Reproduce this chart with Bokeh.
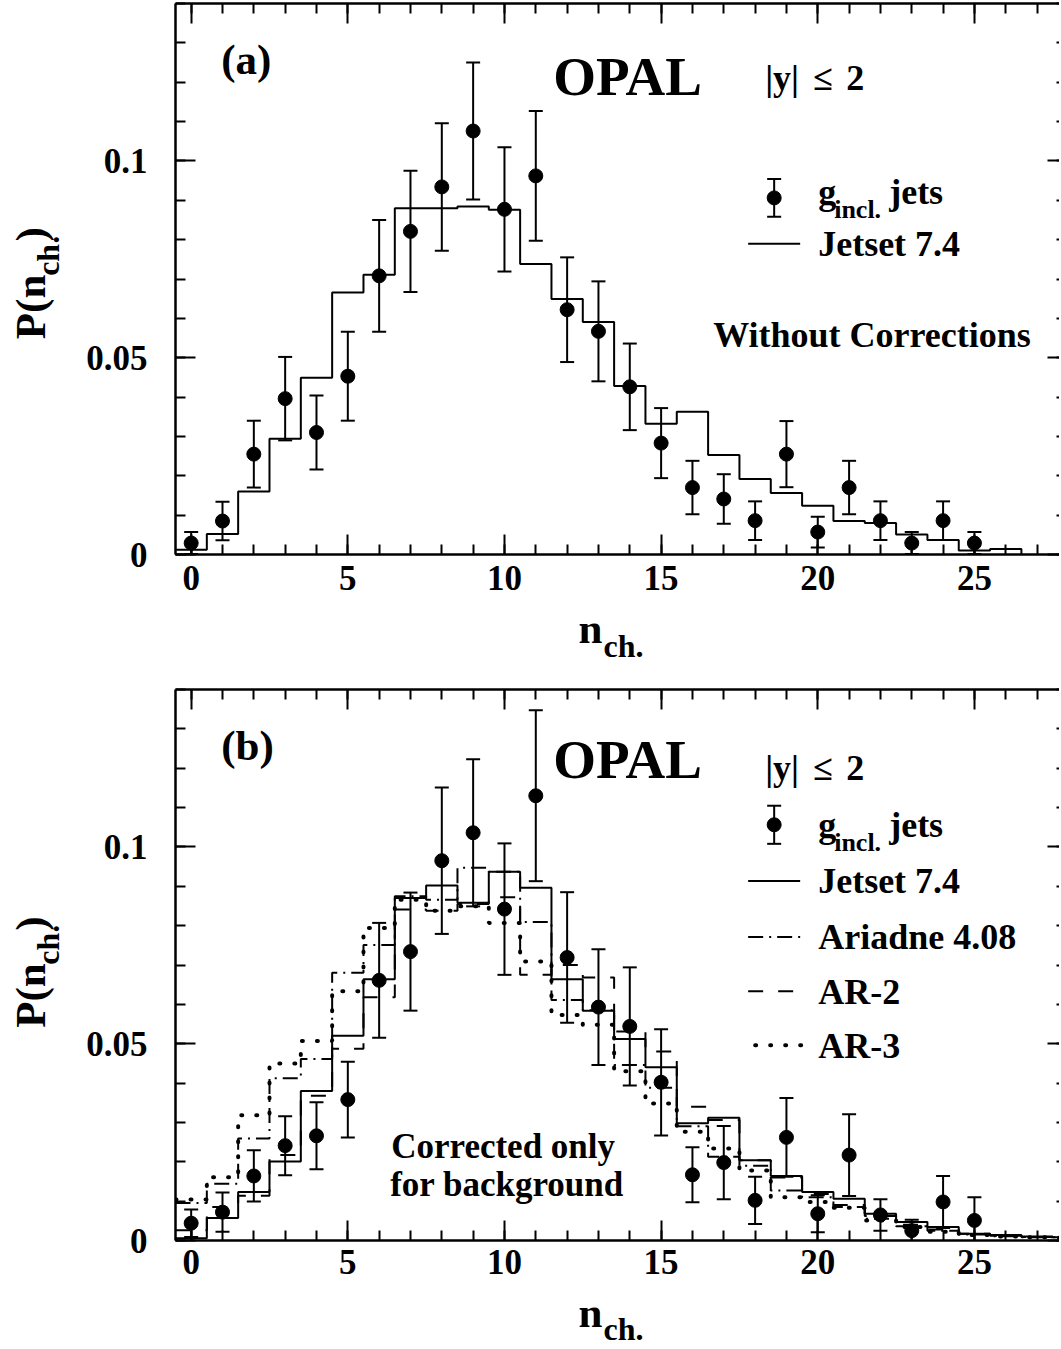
import math
from bokeh.plotting import figure
from bokeh.models import (ColumnDataSource, Whisker, TeeHead, Label, LinearAxis,
                          FixedTicker, Range1d, CustomJSTickFormatter)
from bokeh.layouts import column, row
from bokeh.embed import file_html
from bokeh.resources import INLINE
from bokeh.core.properties import value

# ---------------- data ----------------
# panel (a): without corrections
n_a = list(range(26))
p_a = [0.0029, 0.0085, 0.0255, 0.0396, 0.0310, 0.0453, 0.0708, 0.0821, 0.0934, 0.1076,
       0.0877, 0.0962, 0.0622, 0.0567, 0.0426, 0.0283, 0.0170, 0.0141, 0.0086, 0.0255,
       0.0057, 0.0170, 0.0086, 0.0029, 0.0086, 0.0029]
e_a = [0.0028, 0.0049, 0.0085, 0.0106, 0.0094, 0.0113, 0.0142, 0.0154, 0.0162, 0.0174,
       0.0158, 0.0165, 0.0133, 0.0127, 0.0110, 0.0089, 0.0068, 0.0063, 0.0049, 0.0084,
       0.0039, 0.0068, 0.0049, 0.0028, 0.0049, 0.0028]
bins_a = list(range(27))
jetset_a = [0.0012, 0.0052, 0.0160, 0.0294, 0.0449, 0.0666, 0.0711, 0.0880, 0.0880, 0.0884,
            0.0876, 0.0738, 0.0649, 0.0591, 0.0428, 0.0332, 0.0363, 0.0253, 0.0192, 0.0156,
            0.0124, 0.0085, 0.0080, 0.0051, 0.0037, 0.0010, 0.0014]

# panel (b): corrected only for background
n_b = list(range(26))
p_b = [0.0044, 0.0072, 0.0164, 0.0241, 0.0266, 0.0358, 0.0661, 0.0734, 0.0965, 0.1036,
       0.0842, 0.1130, 0.0719, 0.0593, 0.0544, 0.0402, 0.0167, 0.0198, 0.0102, 0.0262,
       0.0068, 0.0217, 0.0065, 0.0025, 0.0098, 0.0051]
e_b = [0.0035, 0.0050, 0.0065, 0.0075, 0.0085, 0.0096, 0.0146, 0.0150, 0.0186, 0.0187,
       0.0167, 0.0217, 0.0166, 0.0147, 0.0150, 0.0135, 0.0070, 0.0093, 0.0060, 0.0100,
       0.0047, 0.0104, 0.0040, 0.0028, 0.0066, 0.0059]
bins_b = list(range(29))
jetset_b = [0.0006, 0.0057, 0.0123, 0.0201, 0.0380, 0.0520, 0.0664, 0.0870, 0.0902, 0.0858,
            0.0937, 0.0896, 0.0664, 0.0584, 0.0512, 0.0440, 0.0298, 0.0312, 0.0204, 0.0164,
            0.0123, 0.0106, 0.0068, 0.0047, 0.0034, 0.0017, 0.0014, 0.0010, 0.0008]
ariadne_b = [0.0095, 0.0144, 0.0259, 0.0412, 0.0461, 0.0680, 0.0751, 0.0875, 0.0866, 0.0947,
             0.0937, 0.0809, 0.0611, 0.0585, 0.0446, 0.0388, 0.0290, 0.0213, 0.0190, 0.0127,
             0.0110, 0.0085, 0.0055, 0.0036, 0.0025, 0.0015, 0.0011, 0.0008, 0.0007]
ar2_b = [0.0026, 0.0085, 0.0114, 0.0217, 0.0368, 0.0487, 0.0618, 0.0841, 0.0838, 0.0855,
         0.0872, 0.0675, 0.0700, 0.0668, 0.0531, 0.0480, 0.0340, 0.0306, 0.0204, 0.0160,
         0.0118, 0.0090, 0.0062, 0.0040, 0.0028, 0.0017, 0.0012, 0.0009, 0.0008]
ar3_b = [0.0104, 0.0161, 0.0318, 0.0450, 0.0507, 0.0633, 0.0794, 0.0866, 0.0838, 0.0849,
         0.0807, 0.0709, 0.0573, 0.0548, 0.0430, 0.0348, 0.0276, 0.0234, 0.0178, 0.0110,
         0.0098, 0.0083, 0.0051, 0.0034, 0.0022, 0.0014, 0.0010, 0.0008, 0.0007]

x_ticks = [0, 5, 10, 15, 20, 25]
x_minor = list(range(0, 28))
y_ticks = [0, 0.05, 0.1]
y_minor = [i / 100 for i in range(15)]

# ---------------- layout constants ----------------
FONT = "Liberation Serif"
PXU = 31.33                      # pixels per unit of n
FRAME_W = 884
X_END = -0.5 + FRAME_W / PXU
TITLE_W = 70                     # width of the strip holding the y title
PAGE_W = 1061
BASE_SHIFT = 0.35                # empirical baseline correction (em)
ALONG_SHIFT = 0.58               # empirical correction for rotated text (em)


def ax(px):
    return (px - 191.0) / PXU


def ay_a(py):
    return (554.0 - py) / 3940.0


def ay_b(py):
    return (1241.7 - py) / 3926.0


def make_fig(frame_h, top_b, bottom_b, x_standoff):
    p = figure(frame_width=FRAME_W, frame_height=frame_h,
               x_range=Range1d(-0.5, X_END), y_range=Range1d(0, 0.14),
               output_backend="svg", toolbar_location=None,
               min_border_left=175 - TITLE_W, min_border_right=0,
               min_border_top=top_b, min_border_bottom=bottom_b,
               x_axis_location=None, y_axis_location=None)
    p.outline_line_color = None
    p.xgrid.visible = False
    p.ygrid.visible = False
    p.background_fill_color = "white"
    p.border_fill_color = "white"

    def style(a, labels, tin=20, min_in=10, line=True):
        a.axis_line_width = 2.5
        a.axis_line_color = "black" if line else None
        a.major_tick_in = tin
        a.major_tick_out = 0
        a.minor_tick_in = min_in
        a.minor_tick_out = 0
        a.major_tick_line_width = 2
        a.minor_tick_line_width = 2
        a.major_tick_line_color = "black"
        a.minor_tick_line_color = "black"
        if labels:
            a.major_label_text_font = FONT
            a.major_label_text_font_style = "bold"
            a.major_label_text_font_size = "35px"
            a.major_label_text_color = "black"
        else:
            a.major_label_text_font_size = "0px"
            a.major_label_text_color = None
            a.major_label_standoff = 0

    xb = LinearAxis(ticker=FixedTicker(ticks=x_ticks, minor_ticks=x_minor))
    style(xb, True)
    xb.major_label_standoff = x_standoff
    p.add_layout(xb, "below")
    xt = LinearAxis(ticker=FixedTicker(ticks=x_ticks, minor_ticks=x_minor))
    style(xt, False)
    p.add_layout(xt, "above")
    yl = LinearAxis(ticker=FixedTicker(ticks=y_ticks, minor_ticks=y_minor),
                    formatter=CustomJSTickFormatter(code="return tick.toString();"))
    style(yl, True)
    yl.major_label_standoff = 28
    p.add_layout(yl, "left")
    yr = LinearAxis(ticker=FixedTicker(ticks=y_ticks, minor_ticks=y_minor))
    style(yr, False, tin=12, min_in=3, line=False)
    p.add_layout(yr, "right")
    return p


def blank_fig(w, h):
    f = figure(width=w, height=h, x_range=Range1d(0, w), y_range=Range1d(0, h),
               output_backend="svg", toolbar_location=None, min_border=0,
               x_axis_location=None, y_axis_location=None)
    f.outline_line_color = None
    f.xgrid.visible = False
    f.ygrid.visible = False
    return f


def strip_text(f, h, s, lx, ly_top, size, rotated=False):
    # lx, ly_top: wanted pixel position (from the strip's top-left) of the baseline start
    if rotated:
        lx = lx - BASE_SHIFT * size
        ly_top = ly_top + ALONG_SHIFT * size
        angle = math.pi / 2
    else:
        ly_top = ly_top - BASE_SHIFT * size
        angle = 0.0
    f.text(x=[lx], y=[h - ly_top], text=[s], text_font=value(FONT),
           text_font_style=value("bold"), text_font_size=value(f"{size}px"),
           text_color="black", text_align=value("left"),
           text_baseline=value("alphabetic"), angle=angle)


def text(p, s, px, py, size, ayf):
    p.add_layout(Label(x=ax(px), y=ayf(py - BASE_SHIFT * size), x_units="data", y_units="data",
                       text=s, text_font=FONT, text_font_style="bold",
                       text_font_size=f"{size}px", text_color="black",
                       text_align="left", text_baseline="alphabetic"))


def hist(p, bins, vals, dash="solid", width=2.0, cap="butt"):
    edges = [b - 0.5 for b in bins] + [bins[-1] + 0.5]
    ys = list(vals) + [0.0]
    p.step(x=edges, y=ys, mode="after", line_color="black", line_width=width,
           line_dash=dash, line_cap=cap)


def whisk(p, src):
    p.add_layout(Whisker(base="n", upper="hi", lower="lo", source=src, line_width=2,
                         line_color="black",
                         upper_head=TeeHead(size=14, line_width=2, line_color="black"),
                         lower_head=TeeHead(size=14, line_width=2, line_color="black")))
    p.scatter(x="n", y="p", source=src, size=14, color="black")


def points(p, ns, ps, es):
    src = ColumnDataSource(dict(n=ns, p=ps, lo=[a - b for a, b in zip(ps, es)],
                                hi=[a + b for a, b in zip(ps, es)]))
    whisk(p, src)


def legend_point(p, px, py, half, ayf):
    src = ColumnDataSource(dict(n=[ax(px)], p=[ayf(py)], lo=[ayf(py + half)], hi=[ayf(py - half)]))
    whisk(p, src)


def legend_line(p, px0, px1, py, ayf, dash="solid", width=2.0, cap="butt"):
    p.line(x=[ax(px0), ax(px1)], y=[ayf(py), ayf(py)], line_color="black",
           line_width=width, line_dash=dash, line_cap=cap)


def y_title(h, p_start, ch_start, par_start):
    f = blank_fig(TITLE_W, h)
    strip_text(f, h, "P(n", 45, p_start, 43, True)
    strip_text(f, h, "ch.", 59, ch_start, 32, True)
    strip_text(f, h, ")", 45, par_start, 43, True)
    return f


def x_title(h, base, sub):
    f = blank_fig(PAGE_W - 2, h)
    strip_text(f, h, "n", 578, base, 43)
    strip_text(f, h, "ch.", 603, sub, 32)
    return f


DASH_ARI = "15 6 2 6"
DASH_AR2 = "15 15"
DASH_AR3 = "1 14"
LEG = 36

# ---------------- panel (a) ----------------
TOP1, BOT1 = 3, 50
H1 = TOP1 + 551 + BOT1           # 604
p1 = make_fig(551, TOP1, BOT1, 11)
hist(p1, bins_a, jetset_a)
points(p1, n_a, p_a, e_a)
text(p1, "(a)", 221, 74, 43, ay_a)
text(p1, "OPAL", 553, 95, 55, ay_a)
text(p1, "|y|", 765, 90, LEG, ay_a)
text(p1, "\u2264", 813, 90, LEG, ay_a)
text(p1, "2", 846, 90, LEG, ay_a)
legend_point(p1, 774, 197, 19, ay_a)
text(p1, "g", 818, 204, LEG, ay_a)
text(p1, "incl.", 834, 218, 26, ay_a)
text(p1, "jets", 889, 204, LEG, ay_a)
legend_line(p1, 748, 800, 243, ay_a)
text(p1, "Jetset 7.4", 818, 256, LEG, ay_a)
text(p1, "Without Corrections", 713, 347, LEG, ay_a)
ya = y_title(H1, 343, 280, 236)
XA_H = 77
xa = x_title(XA_H, 39, 53)

# ---------------- panel (b) ----------------
TOP2, BOT2 = 8, 48
H2 = TOP2 + 551 + BOT2           # 607
p2 = make_fig(551, TOP2, BOT2, 9)
hist(p2, bins_b, ar3_b, dash=DASH_AR3, width=4, cap="round")
hist(p2, bins_b, ar2_b, dash=DASH_AR2)
hist(p2, bins_b, ariadne_b, dash=DASH_ARI)
hist(p2, bins_b, jetset_b)
points(p2, n_b, p_b, e_b)
text(p2, "(b)", 221, 763, 43, ay_b)
text(p2, "OPAL", 553, 781, 55, ay_b)
text(p2, "|y|", 765, 783, LEG, ay_b)
text(p2, "\u2264", 813, 783, LEG, ay_b)
text(p2, "2", 846, 783, LEG, ay_b)
legend_point(p2, 774, 827, 19, ay_b)
text(p2, "g", 818, 840, LEG, ay_b)
text(p2, "incl.", 834, 854, 26, ay_b)
text(p2, "jets", 889, 840, LEG, ay_b)
legend_line(p2, 748, 800, 883, ay_b)
text(p2, "Jetset 7.4", 818, 896, LEG, ay_b)
legend_line(p2, 748, 803, 939, ay_b, dash=DASH_ARI)
text(p2, "Ariadne 4.08", 818, 952, LEG, ay_b)
legend_line(p2, 748, 795, 993, ay_b, dash=DASH_AR2)
text(p2, "AR-2", 818, 1006, LEG, ay_b)
legend_line(p2, 755, 801, 1047, ay_b, dash=DASH_AR3, width=4, cap="round")
text(p2, "AR-3", 818, 1060, LEG, ay_b)
text(p2, "Corrected only", 391, 1160, 35, ay_b)
text(p2, "for background", 390, 1198, 35, ay_b)
Y0_B = H1 + XA_H                 # page y of panel (b) strip top (681)
yb = y_title(H2, 1028.7 - Y0_B, 965.7 - Y0_B, 921.7 - Y0_B)
xb = x_title(60, 39, 52)

layout = column(row(ya, p1), xa, row(yb, p2), xb)
open("out.html", "w").write(file_html(layout, INLINE))
